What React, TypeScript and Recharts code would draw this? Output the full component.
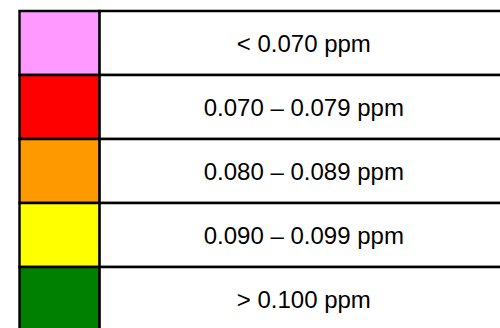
import { BarChart, Bar, XAxis, YAxis, Cell, LabelList } from 'recharts';

// ozone legend: one row per range
const ranges = ['< 0.070 ppm', '0.070 – 0.079 ppm', '0.080 – 0.089 ppm', '0.090 – 0.099 ppm', '> 0.100 ppm'];
const colors = ['#FF99FF', '#FF0000', '#FF9900', '#FFFF00', '#008000'];

// share of the table width taken by the colour swatch column
const SWATCH_SHARE = 0.164;

const rows = ranges.map((label, i) => ({
  label,
  color: colors[i],
  swatch: SWATCH_SHARE,
  text: 1 - SWATCH_SHARE,
}));

export default function App() {
  // the table runs past the right and bottom edges of the picture, so clip it
  return (
    <div style={{ width: 500, height: 328, overflow: 'hidden', position: 'relative' }}>
      <style>{'body { margin: 0; }'}</style>
      <div style={{ position: 'absolute', left: 8, top: 8 }}>
        <BarChart
          width={500}
          height={323}
          data={rows}
          layout="vertical"
          margin={{ top: 3, right: 0, bottom: 0, left: 11.5 }}
          barCategoryGap={0}
        >
          <XAxis type="number" domain={[0, 1]} hide />
          <YAxis type="category" dataKey="label" hide />
          <Bar dataKey="swatch" stackId="row" stroke="#000" strokeWidth={2.4} isAnimationActive={false}>
            {rows.map((r) => (
              <Cell key={r.label} fill={r.color} />
            ))}
          </Bar>
          <Bar dataKey="text" stackId="row" fill="#fff" stroke="#000" strokeWidth={2.4} isAnimationActive={false}>
            <LabelList
              dataKey="label"
              position="center"
              fill="#000"
              fontSize={24}
              fontFamily="'Liberation Sans', Arial, sans-serif"
            />
          </Bar>
        </BarChart>
      </div>
    </div>
  );
}
